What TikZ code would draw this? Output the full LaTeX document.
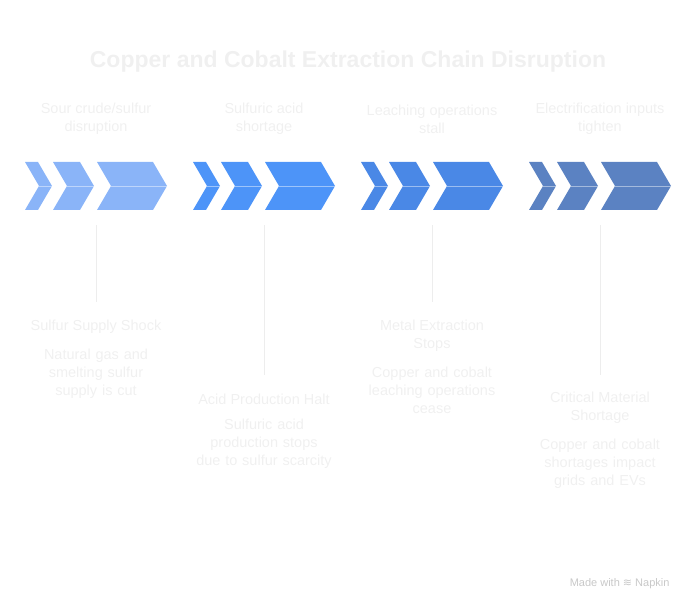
\documentclass[tikz,border=0pt]{standalone}
\usepackage{fontspec}
\setmainfont{Liberation Sans}
\newfontfamily\symfont{DejaVu Sans}
\usetikzlibrary{positioning}
\definecolor{faint}{HTML}{F0F0F0}
\definecolor{stemc}{HTML}{EDEDED}
\definecolor{blueA}{HTML}{8AB4F8}
\definecolor{blueB}{HTML}{4D94F8}
\definecolor{blueC}{HTML}{4A88E6}
\definecolor{blueD}{HTML}{5B82C2}
\definecolor{markc}{HTML}{C8C8C8}
\tikzset{
  head/.style={font=\fontsize{14.5}{18}\selectfont, text=faint, align=center},
  stage/.style={font=\fontsize{14.5}{18}\selectfont, text=faint, align=center},
  descr/.style={font=\fontsize{14.5}{18}\selectfont, text=faint, align=center, text width=150pt},
  stem/.style={draw=stemc, line width=1pt}
}
% one chevron: left x, right x, colour
\newcommand{\chev}[3]{%
  \fill[#3] (#1,162) -- (#2,162) -- (#2+14,186) -- (#2,210) -- (#1,210) -- (#1+14,186) -- cycle;
  \draw[white, opacity=.45, line width=0.6pt] (#1+14,186) -- (#2+14,186);}
\begin{document}
\begin{tikzpicture}[x=1pt,y=-1pt]
  \useasboundingbox (0,0) rectangle (696,612);
  \node[font=\bfseries\fontsize{23}{27}\selectfont, text=faint] (title) at (348,62) {Copper and Cobalt Extraction Chain Disruption};

  \foreach \off/\col in {0/blueA,168/blueB,336/blueC,504/blueD}{
    \chev{25+\off}{38+\off}{\col}
    \chev{53+\off}{80+\off}{\col}
    \chev{97+\off}{153+\off}{\col}
  }

  \node[head] (h1) at (96,119) {Sour crude/sulfur\\disruption};
  \node[head] (h2) at (264,119) {Sulfuric acid\\shortage};
  \node[head] (h3) at (432,119) {Leaching operations\\stall};
  \node[head] (h4) at (600,119) {Electrification inputs\\tighten};

  \coordinate (t1) at (96,225);
  \coordinate (t2) at (264,225);
  \coordinate (t3) at (432,225);
  \coordinate (t4) at (600,225);

  \node[stage] (s1) at (96,327) {Sulfur Supply Shock};
  \node[descr, below=8pt of s1] (d1) {Natural gas and\\smelting sulfur\\supply is cut};
  \node[stage] (s2) at (264,399) {Acid Production Halt};
  \node[descr, below=8pt of s2] (d2) {Sulfuric acid\\production stops\\due to sulfur scarcity};
  \node[stage] (s3) at (432,336) {Metal Extraction\\Stops};
  \node[descr, below=8pt of s3] (d3) {Copper and cobalt\\leaching operations\\cease};
  \node[stage] (s4) at (600,408) {Critical Material\\Shortage};
  \node[descr, below=8pt of s4] (d4) {Copper and cobalt\\shortages impact\\grids and EVs};

  \draw[stem] (t1) -- (t1 |- 0,302);
  \draw[stem] (t2) -- (t2 |- 0,375);
  \draw[stem] (t3) -- (t3 |- 0,302);
  \draw[stem] (t4) -- (t4 |- 0,375);

  \node[font=\fontsize{11}{13}\selectfont, text=markc, anchor=east] (mark) at (673,584) {Made with {\symfont ≋} Napkin};
\end{tikzpicture}
\end{document}
